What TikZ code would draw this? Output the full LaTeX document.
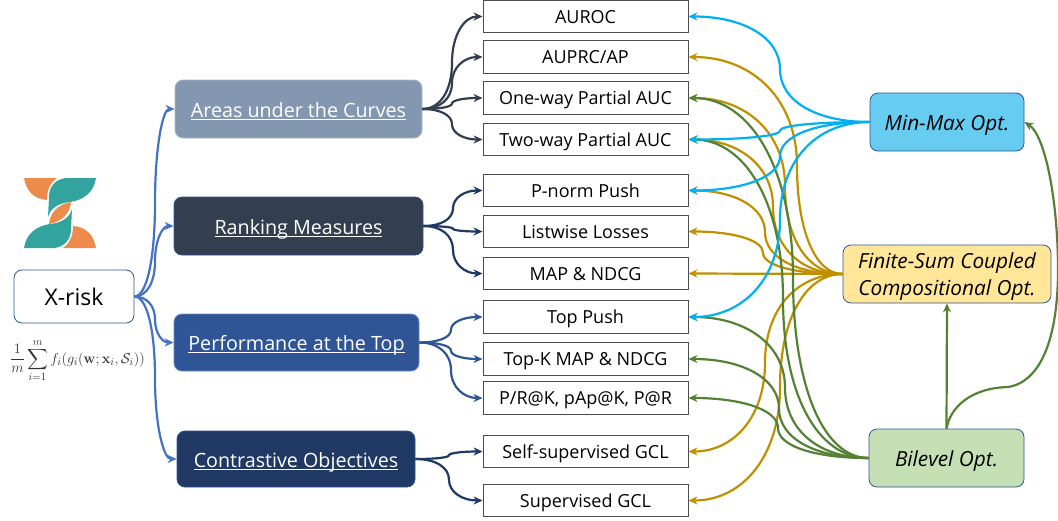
\documentclass[tikz,border=0pt]{standalone}
\usepackage{amsmath}
\usepackage[no-math]{fontspec}
\setmainfont{Open Sans}
\usetikzlibrary{calc,arrows.meta}
\definecolor{cblue}{HTML}{00B0F0}
\definecolor{cgold}{HTML}{BF9000}
\definecolor{cgreen}{HTML}{548235}
\definecolor{cdark}{HTML}{333F50}
\definecolor{cnavy}{HTML}{1F3864}
\definecolor{cmid}{HTML}{4472C4}
\definecolor{cedge}{HTML}{2F5597}
\definecolor{cslate}{HTML}{8497B0}
\definecolor{lorange}{HTML}{ED8B4C}
\definecolor{lteal}{HTML}{33A39E}
\newsavebox{\ulbox}
\newcommand{\ulin}[1]{\sbox{\ulbox}{#1}\rlap{\rule[-2.6pt]{\wd\ulbox}{0.9pt}}\usebox{\ulbox}}
% curved connector: the value is the x of the middle vertical tangent
\tikzset{
  sc/.style={to path={
    let \p1=(\tikztostart),\p2=(\tikztotarget),\n1={#1},\n2={(\y1+\y2)/2} in
    .. controls ($(\x1,\y1)!0.6!(\n1,\y1)$) and ($(\n1,\n2)!0.6!(\n1,\y1)$) .. (\n1,\n2)
    .. controls ($(\n1,\n2)!0.6!(\n1,\y2)$) and ($(\x2,\y2)!0.6!(\n1,\y2)$) .. (\x2,\y2)}},
  metric/.style={draw=black!70,line width=0.9pt,fill=white,minimum width=205pt,minimum height=32.5pt,inner sep=0pt,font=\fontsize{18}{21}\selectfont,text height=15.5pt,text depth=2pt},
  cat/.style={rounded corners=8pt,draw=cedge,line width=0.8pt,inner sep=0pt,text=white,font=\fontsize{19.7}{23}\selectfont,text height=20pt,text depth=3.5pt},
  opt/.style={rounded corners=8pt,draw=cedge,line width=0.8pt,inner sep=0pt,align=center,font=\fontsize{20.8}{27}\selectfont\itshape},
  lnk/.style={line width=#1,-{Stealth[length=9pt,width=8pt]}},
  lnk/.default=2.2pt
}
\begin{document}
\begin{tikzpicture}[x=1pt,y=-1pt]
\useasboundingbox (0,0) rectangle (1058,520);
% logo: one half and its copy turned round the centre
\foreach \ang in {0,180}{
\begin{scope}[rotate around={\ang:(60,213)}]
\fill[lorange] (24,178) -- (57,178) .. controls (50,183) and (47,190) .. (47,200) .. controls (33,199) and (26,190) .. (24,178) -- cycle;
\fill[lteal] (96,178) -- (66,178) .. controls (56,179) and (49,186) .. (49,197) -- (48,217) .. controls (50,209) and (58,203) .. (70,202) .. controls (84,200) and (94,192) .. (96,178) -- cycle;
\end{scope}}
\fill[lorange] (49,224) .. controls (50,213) and (58,204) .. (71,202) .. controls (70,213) and (62,222) .. (49,224) -- cycle;
% nodes
\node[rounded corners=8pt,draw=cedge,line width=0.8pt,fill=white,minimum width=120pt,minimum height=53pt,inner sep=0pt,font=\fontsize{23}{27}\selectfont] (xrisk) at (74,296.5) {X-risk};
\node[text=black!80,font=\fontsize{15}{18}\selectfont,inner sep=0pt] (formula) at (77.5,360.5) {$\displaystyle\frac{1}{m}\sum_{i=1}^{m} f_i(g_i(\mathbf{w};\mathbf{x}_i,\mathcal{S}_i))$};

\node[cat,fill=cslate,draw=cslate!70!white,minimum width=247pt,minimum height=58pt] (auc) at (298.5,109) {\ulin{Areas under the Curves}};
\node[cat,fill=cdark,minimum width=249pt,minimum height=58pt] (rank) at (298.5,226) {\ulin{Ranking Measures}};
\node[cat,fill=cedge,draw=cedge!70!white,minimum width=245pt,minimum height=57pt] (perf) at (296.5,342.5) {\ulin{Performance at the Top}};
\node[cat,fill=cnavy,minimum width=238pt,minimum height=56pt] (contr) at (296,459) {\ulin{Contrastive Objectives}};

\node[metric] (m1) at (585.5,16.5) {AUROC};
\node[metric] (m2) at (585.5,57) {AUPRC/AP};
\node[metric] (m3) at (585.5,98) {One-way Partial AUC};
\node[metric] (m4) at (585.5,139.5) {Two-way Partial AUC};
\node[metric] (m5) at (585.5,190.5) {P-norm Push};
\node[metric] (m6) at (585.5,231.5) {Listwise Losses};
\node[metric] (m7) at (585.5,273.5) {MAP \& NDCG};
\node[metric] (m8) at (585.5,317) {Top Push};
\node[metric] (m9) at (585.5,359) {Top-K MAP \& NDCG};
\node[metric] (m10) at (585.5,398) {P/R@K, pAp@K, P@R};
\node[metric] (m11) at (585.5,451.5) {Self-supervised GCL};
\node[metric] (m12) at (585.5,500.5) {Supervised GCL};

\node[opt,fill={rgb,255:red,102;green,204;blue,240},minimum width=154pt,minimum height=58pt,text height=19pt,text depth=3pt] (minmax) at (947,122) {Min-Max Opt.};
\node[opt,fill={rgb,255:red,255;green,230;blue,153},minimum width=208pt,minimum height=58pt,text height=46pt,text depth=4pt] (fscc) at (947,274) {Finite-Sum Coupled\\Compositional Opt.};
\node[opt,fill={rgb,255:red,197;green,224;blue,180},minimum width=155pt,minimum height=58pt,text height=19pt,text depth=3pt] (bilevel) at (946.5,458) {Bilevel Opt.};

% X-risk links
\draw[lnk,cmid] (xrisk.east) to[sc=155] (auc.west);
\draw[lnk,cmid] (xrisk.east) to[sc=155] (rank.west);
\draw[lnk,cmid] (xrisk.east) to[sc=155] (perf.west);
\draw[lnk,cmid] (xrisk.east) to[sc=155] (contr.west);
% category links
\foreach \t in {m1,m2,m3,m4} \draw[lnk,cdark] (auc.east) to[sc=452] (\t.west);
\foreach \t in {m5,m6,m7} \draw[lnk,cnavy] (rank.east) to[sc=453] (\t.west);
\foreach \t in {m8,m9,m10} \draw[lnk,cedge] (perf.east) to[sc=451] (\t.west);
\foreach \t in {m11,m12} \draw[lnk,cnavy] (contr.east) to[sc=449] (\t.west);
% gold links
\draw[lnk,cgold] (fscc.west) to[sc=797] (m2.east);
\draw[lnk,cgold] (fscc.west) to[sc=785] (m3.east);
\draw[lnk,cgold] (fscc.west) to[sc=773] (m4.east);
\draw[lnk,cgold] (fscc.west) to[sc=765] (m5.east);
\draw[lnk,cgold] (fscc.west) to[sc=763] (m6.east);
\draw[lnk,cgold] (fscc.west) -- (m7.east);
\draw[lnk,cgold] (fscc.west) to[sc=765] (m11.east);
\draw[lnk,cgold] (fscc.west) to[sc=780] (m12.east);
% green links
\draw[lnk,cgreen] (bilevel.west) to[sc=793] (m3.east);
\draw[lnk,cgreen] (bilevel.west) to[sc=783] (m4.east);
\draw[lnk,cgreen] (bilevel.west) to[sc=785] (m8.east);
\draw[lnk,cgreen] (bilevel.west) to[sc=779] (m9.east);
\draw[lnk,cgreen] (bilevel.west) to[sc=778] (m10.east);
\draw[lnk,cgreen] (bilevel.north) -- (fscc.south);
\draw[lnk,cgreen] (bilevel.north) .. controls (950,408) and (970,388) .. (1008,387) .. controls (1040,382) and (1058,340) .. (1058,270) .. controls (1058,200) and (1045,135) .. (minmax.east);
% blue links
\draw[lnk,cblue] (minmax.west) to[sc=780] (m1.east);
\draw[lnk,cblue] (minmax.west) to[sc=780] (m4.east);
\draw[lnk,cblue] (minmax.west) to[sc=780] (m5.east);
\draw[lnk,cblue] (minmax.west) to[sc=780] (m8.east);
\end{tikzpicture}
\end{document}
